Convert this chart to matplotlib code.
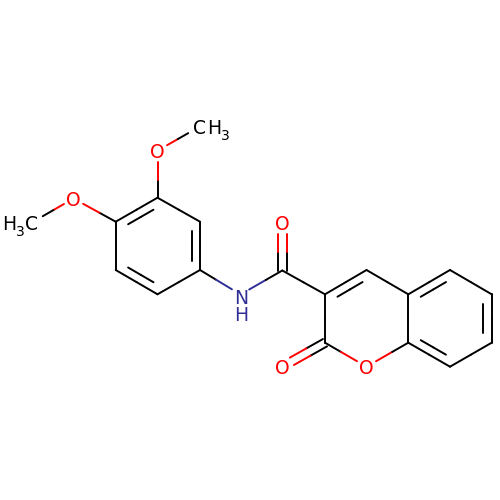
import matplotlib
matplotlib.use("Agg")
import matplotlib.pyplot as plt
import numpy as np

# Atom positions (pixels)
atom_names = ["C1p","C2p","C3p","C4p","C5p","C6p","O3","Me3","O4","Me4","N","CA","OA",
              "C3","C4","C4a","C8a","C2","O1","O2","C5","C6","C7","C8"]
atom_x = [200,200,157.5,115.7,115.7,157.5,157.5,199.5,73.5,31.5,240.5,282.3,282.3,
          325,366.5,408.3,408.3,325,366.5,282.3,450,491.7,491.7,450]
atom_y = [270,221.7,197.7,221.7,270,294.3,150.7,126.7,198.5,222.7,294.5,270.5,222.7,
          294.3,270,294.3,342.7,342.7,366.7,366.7,270,294.3,342.7,366.7]
atom_color = {"O3":"#ff0000","O4":"#ff0000","OA":"#ff0000","O1":"#ff0000","O2":"#ff0000","N":"#2f2f96"}
atom_trim = {"O3":11,"O4":11,"OA":11.5,"O1":11,"O2":11,"N":10,"Me3":13,"Me4":13}
pos = {n:(x,y) for n,x,y in zip(atom_names,atom_x,atom_y)}

# Bonds
single_bonds = [("C1p","C6p"),("C2p","C3p"),("C4p","C5p"),
                ("C3p","O3"),("O3","Me3"),("C4p","O4"),("O4","Me4"),("C1p","N"),("N","CA"),
                ("CA","C3"),("C3","C2"),("C4","C4a"),("C2","O1"),
                ("O1","C8a"),("C4a","C8a"),("C5","C6"),("C7","C8")]
ring_double_bonds = [("C3p","C4p","A"),("C5p","C6p","A"),("C1p","C2p","A"),
                     ("C3","C4","B"),("C4a","C5","C"),("C6","C7","C"),("C8a","C8","C")]
carbonyl_bonds = [("CA","OA"),("C2","O2")]
ring_centers = {"A":["C1p","C2p","C3p","C4p","C5p","C6p"],
                "B":["C3","C4","C4a","C8a","O1","C2"],
                "C":["C4a","C5","C6","C7","C8","C8a"]}

BLACK = "#000000"
LW = 1.4

fig = plt.figure(figsize=(5,5), dpi=100, facecolor="white")
ax = fig.add_axes([0,0,1,1])
ax.set_xlim(0,500); ax.set_ylim(500,0); ax.axis("off")

def seg(p,q,c):
    ax.plot([p[0],q[0]],[p[1],q[1]],color=c,lw=LW,solid_capstyle="round",zorder=2)

def draw(a,b,offset=(0,0),extra_a=0,extra_b=0):
    p=np.array(pos[a],float); q=np.array(pos[b],float)
    u=(q-p)/np.linalg.norm(q-p)
    p=p+u*(atom_trim.get(a,0)+extra_a)+offset
    q=q-u*(atom_trim.get(b,0)+extra_b)+offset
    m=(p+q)/2
    seg(p,m,atom_color.get(a,BLACK)); seg(m,q,atom_color.get(b,BLACK))

for a,b in single_bonds:
    draw(a,b)
for a,b,r in ring_double_bonds:
    draw(a,b)
    c=np.mean([pos[n] for n in ring_centers[r]],axis=0)
    p=np.array(pos[a],float); q=np.array(pos[b],float)
    u=(q-p)/np.linalg.norm(q-p); n=np.array([-u[1],u[0]])
    if np.dot(c-p,n)<0: n=-n
    draw(a,b,offset=n*8.4,extra_a=9.5,extra_b=9.5)
for a,b in carbonyl_bonds:
    p=np.array(pos[a],float); q=np.array(pos[b],float)
    u=(q-p)/np.linalg.norm(q-p); n=np.array([-u[1],u[0]])
    draw(a,b,offset=n*4.2); draw(a,b,offset=-n*4.2)

fs=13.5
def label(x,y,s,c=BLACK,size=fs,ha="center"):
    ax.text(x,y,s,color=c,fontsize=size,ha=ha,va="center_baseline",family="DejaVu Sans",zorder=3)

for n in ["O3","O4","OA","O1","O2"]:
    label(pos[n][0],pos[n][1],"O","#ff0000")
label(240.7,296,"N","#2f2f96")
label(240.7,313.5,"H","#2f2f96")
label(200,126.5,"C"); label(214,126.5,"H")
label(225,134.5,"3",size=10)
label(9,222.5,"H"); label(20.5,231,"3",size=10); label(32,222.5,"C")

fig.savefig("out.png",dpi=100,facecolor="white")
